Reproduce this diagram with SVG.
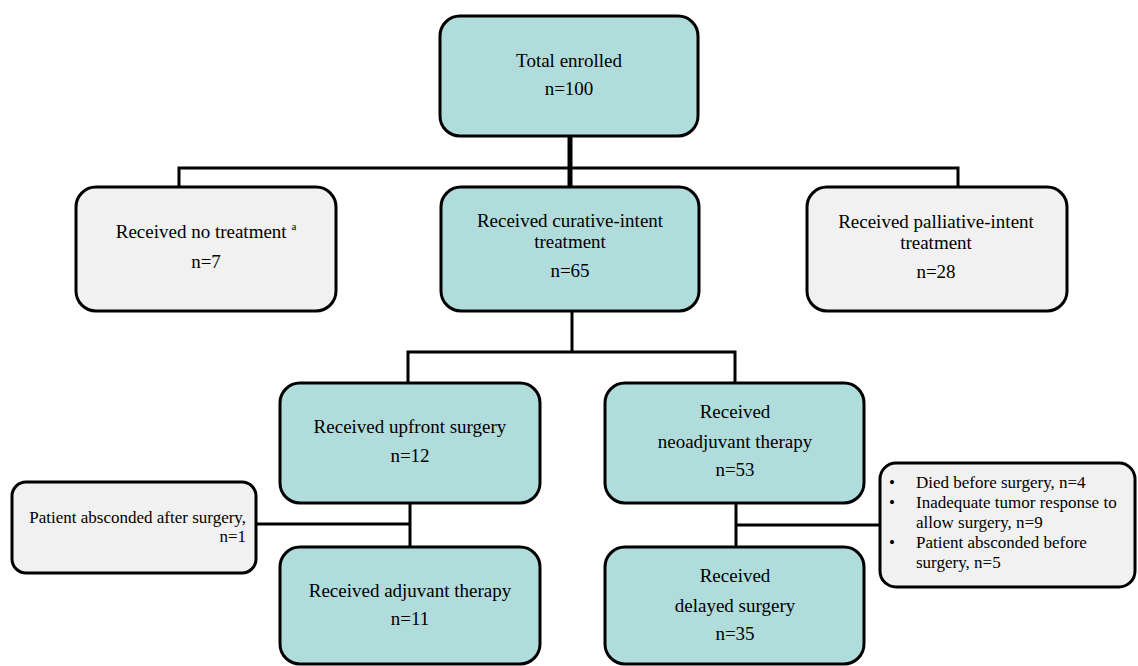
<svg xmlns="http://www.w3.org/2000/svg" width="1138" height="666" viewBox="0 0 1138 666">
<style>
.box{stroke:#000;stroke-width:3}
.teal{fill:#B0DCDB}
.grey{fill:#F1F1F1}
.t{font-family:"Liberation Serif","Times New Roman",serif;font-size:19px;fill:#000;text-anchor:middle}
.s{font-family:"Liberation Serif","Times New Roman",serif;font-size:17px;fill:#000}
.c{fill:none;stroke:#000;stroke-width:3}
</style>
<rect width="1138" height="666" fill="#fff"/>
<g id="connectors">
<line x1="570" y1="136" x2="570" y2="187" stroke="#000" stroke-width="5"/>
<polyline class="c" points="179,187 179,168 958,168 958,187"/>
<line class="c" x1="572" y1="311" x2="572" y2="352"/>
<polyline class="c" points="408,383 408,352 735,352 735,383"/>
<line class="c" x1="410" y1="502" x2="410" y2="547"/>
<line class="c" x1="256" y1="524" x2="410" y2="524"/>
<line class="c" x1="736" y1="502" x2="736" y2="547"/>
<line class="c" x1="736" y1="525" x2="880" y2="525"/>
</g>
<g id="total">
<rect class="box teal" x="440" y="16" width="258" height="120" rx="20"/>
<text class="t" x="569" y="67">Total enrolled</text>
<text class="t" x="569" y="95">n=100</text>
</g>
<g id="notreat">
<rect class="box grey" x="76" y="187" width="260" height="124" rx="20"/>
<text class="t" x="206" y="238">Received no treatment <tspan font-size="11" dy="-8">a</tspan></text>
<text class="t" x="206" y="268">n=7</text>
</g>
<g id="curative">
<rect class="box teal" x="441" y="187" width="258" height="124" rx="20"/>
<text class="t" x="570" y="227">Received curative-intent</text>
<text class="t" x="570" y="248">treatment</text>
<text class="t" x="570" y="277">n=65</text>
</g>
<g id="palliative">
<rect class="box grey" x="807" y="187" width="260" height="124" rx="20"/>
<text class="t" x="936" y="228">Received palliative-intent</text>
<text class="t" x="936" y="249">treatment</text>
<text class="t" x="936" y="278">n=28</text>
</g>
<g id="upfront">
<rect class="box teal" x="280" y="383" width="260" height="120" rx="20"/>
<text class="t" x="410" y="433">Received upfront surgery</text>
<text class="t" x="410" y="462">n=12</text>
</g>
<g id="neoadjuvant">
<rect class="box teal" x="605" y="383" width="259" height="120" rx="20"/>
<text class="t" x="735" y="418">Received</text>
<text class="t" x="735" y="448">neoadjuvant therapy</text>
<text class="t" x="735" y="476">n=53</text>
</g>
<g id="absconded">
<rect class="box grey" x="12" y="482" width="244" height="91" rx="14"/>
<text class="s" x="246" y="523" text-anchor="end">Patient absconded after surgery,</text>
<text class="s" x="246" y="542" text-anchor="end">n=1</text>
</g>
<g id="adjuvant">
<rect class="box teal" x="280" y="547" width="260" height="117" rx="20"/>
<text class="t" x="410" y="597">Received adjuvant therapy</text>
<text class="t" x="410" y="625">n=11</text>
</g>
<g id="delayed">
<rect class="box teal" x="605" y="547" width="259" height="117" rx="20"/>
<text class="t" x="735" y="582">Received</text>
<text class="t" x="735" y="612">delayed surgery</text>
<text class="t" x="735" y="640">n=35</text>
</g>
<g id="reasons">
<rect class="box grey" x="880" y="463" width="255" height="124" rx="16"/>
<text class="s" x="889" y="488">•</text>
<text class="s" x="916" y="488">Died before surgery, n=4</text>
<text class="s" x="889" y="508">•</text>
<text class="s" x="916" y="508">Inadequate tumor response to</text>
<text class="s" x="916" y="528">allow surgery, n=9</text>
<text class="s" x="889" y="548">•</text>
<text class="s" x="916" y="548">Patient absconded before</text>
<text class="s" x="916" y="568">surgery, n=5</text>
</g>
</svg>
